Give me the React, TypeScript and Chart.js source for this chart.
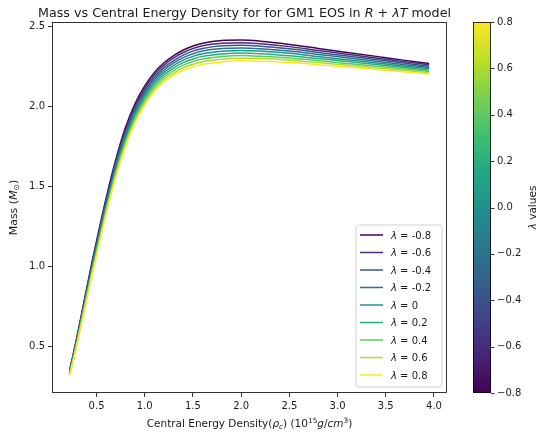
import { useEffect, useRef } from 'react';
import { Chart, registerables } from 'chart.js';
Chart.register(...registerables);

// ---------- data ----------
const X_VALUES = [0.22, 0.25, 0.3, 0.35, 0.4, 0.45, 0.5, 0.6, 0.7, 0.8, 0.9, 1.0, 1.1, 1.2, 1.3, 1.4, 1.5, 1.6, 1.8, 2.0, 2.2, 2.5, 2.8, 3.1, 3.4, 3.7, 3.95];
const LAMBDAS = [-0.8, -0.6, -0.4, -0.2, 0, 0.2, 0.4, 0.6, 0.8];
const LAMBDA_LABELS = ['-0.8', '-0.6', '-0.4', '-0.2', '0', '0.2', '0.4', '0.6', '0.8'];

const MASS_L_M08 = [0.35, 0.43, 0.57, 0.72, 0.87, 1.02, 1.16, 1.43, 1.67, 1.87, 2.02, 2.13, 2.215, 2.275, 2.32, 2.355, 2.38, 2.397, 2.414, 2.417, 2.41, 2.39, 2.365, 2.34, 2.315, 2.29, 2.27];
const MASS_L_M06 = [0.346, 0.425, 0.564, 0.713, 0.861, 1.01, 1.149, 1.418, 1.656, 1.855, 2.005, 2.115, 2.20, 2.26, 2.305, 2.339, 2.364, 2.381, 2.397, 2.401, 2.394, 2.376, 2.352, 2.329, 2.305, 2.281, 2.262];
const MASS_L_M04 = [0.343, 0.42, 0.558, 0.705, 0.853, 1.0, 1.138, 1.405, 1.643, 1.84, 1.99, 2.10, 2.185, 2.245, 2.289, 2.323, 2.348, 2.364, 2.381, 2.385, 2.379, 2.362, 2.34, 2.317, 2.295, 2.272, 2.254];
const MASS_L_M02 = [0.339, 0.415, 0.551, 0.698, 0.844, 0.99, 1.126, 1.393, 1.629, 1.825, 1.975, 2.085, 2.17, 2.23, 2.274, 2.307, 2.331, 2.348, 2.364, 2.368, 2.363, 2.348, 2.327, 2.306, 2.284, 2.263, 2.246];
const MASS_L_0 = [0.335, 0.41, 0.545, 0.69, 0.835, 0.98, 1.115, 1.38, 1.615, 1.81, 1.96, 2.07, 2.155, 2.215, 2.259, 2.292, 2.315, 2.331, 2.347, 2.352, 2.348, 2.334, 2.314, 2.294, 2.274, 2.254, 2.238];
const MASS_L_P02 = [0.331, 0.405, 0.539, 0.683, 0.826, 0.97, 1.104, 1.368, 1.601, 1.795, 1.945, 2.055, 2.14, 2.20, 2.243, 2.276, 2.299, 2.315, 2.33, 2.336, 2.332, 2.319, 2.301, 2.283, 2.264, 2.245, 2.229];
const MASS_L_P04 = [0.328, 0.40, 0.533, 0.675, 0.818, 0.96, 1.093, 1.355, 1.588, 1.78, 1.93, 2.04, 2.125, 2.185, 2.228, 2.26, 2.283, 2.298, 2.314, 2.32, 2.316, 2.305, 2.289, 2.271, 2.254, 2.236, 2.221];
const MASS_L_P06 = [0.324, 0.395, 0.526, 0.668, 0.809, 0.95, 1.081, 1.343, 1.574, 1.765, 1.915, 2.025, 2.11, 2.17, 2.212, 2.244, 2.266, 2.282, 2.297, 2.303, 2.301, 2.291, 2.276, 2.26, 2.243, 2.227, 2.213];
const MASS_L_P08 = [0.32, 0.39, 0.52, 0.66, 0.80, 0.94, 1.07, 1.33, 1.56, 1.75, 1.90, 2.01, 2.095, 2.155, 2.197, 2.228, 2.25, 2.265, 2.28, 2.287, 2.285, 2.277, 2.263, 2.248, 2.233, 2.218, 2.205];

const SERIES = [MASS_L_M08, MASS_L_M06, MASS_L_M04, MASS_L_M02, MASS_L_0, MASS_L_P02, MASS_L_P04, MASS_L_P06, MASS_L_P08];

const X_TICKS = [0.5, 1.0, 1.5, 2.0, 2.5, 3.0, 3.5, 4.0];
const Y_TICKS = [0.5, 1.0, 1.5, 2.0, 2.5];
const CBAR_TICKS = [-0.8, -0.6, -0.4, -0.2, 0.0, 0.2, 0.4, 0.6, 0.8];

// ---------- styles ----------
const W = 541;
const H = 436;
const FONT = '"DejaVu Sans", sans-serif';
const LINE_COLORS = ['#440154', '#472d7b', '#3b528b', '#2c728e', '#21918c', '#27ad81', '#5ec962', '#aadc32', '#fde725'];
const VIRIDIS = ['#440154', '#482475', '#414487', '#355f8d', '#2a788e', '#21918c', '#22a884', '#44bf70', '#7ad151', '#bddf26', '#fde725'];
const TICK_SIZE = 10;
const LABEL_SIZE = 10.5;
const TITLE_SIZE = 12.7;
const TEXT = '#1a1a1a';

type Seg = { t: string; it?: boolean; sub?: boolean; sup?: boolean };

function richText(ctx: CanvasRenderingContext2D, segs: Seg[], x: number, y: number, size: number, align: 'center' | 'left') {
  const fontOf = (s: Seg) => `${s.it ? 'italic ' : ''}${s.sub || s.sup ? size * 0.7 : size}px ${FONT}`;
  let total = 0;
  const widths = segs.map((s) => {
    ctx.font = fontOf(s);
    const w = ctx.measureText(s.t).width;
    total += w;
    return w;
  });
  let cx = align === 'center' ? x - total / 2 : x;
  ctx.textAlign = 'left';
  ctx.textBaseline = 'alphabetic';
  segs.forEach((s, i) => {
    ctx.font = fontOf(s);
    const dy = s.sub ? size * 0.22 : s.sup ? -size * 0.42 : 0;
    ctx.fillText(s.t, cx, y + dy);
    cx += widths[i];
  });
}

const decorPlugin = {
  id: 'decor',
  afterDraw(chart: any) {
    const ctx: CanvasRenderingContext2D = chart.ctx;
    const ca = chart.chartArea;
    ctx.save();
    // frame
    ctx.strokeStyle = '#000';
    ctx.lineWidth = 0.8;
    ctx.strokeRect(Math.round(ca.left) + 0.5, Math.round(ca.top) + 0.5, Math.round(ca.right - ca.left) - 1, Math.round(ca.bottom - ca.top) - 1);

    ctx.fillStyle = TEXT;
    // title
    richText(ctx, [
      { t: 'Mass vs Central Energy Density for for GM1 EOS in ' },
      { t: 'R', it: true },
      { t: ' + ' },
      { t: '\u03bbT', it: true },
      { t: ' model' },
    ], (ca.left + ca.right) / 2 - 5, 17, TITLE_SIZE, 'center');

    // x label
    richText(ctx, [
      { t: 'Central Energy Density(' },
      { t: '\u03c1', it: true },
      { t: 'c', it: true, sub: true },
      { t: ') (10' },
      { t: '15', sup: true },
      { t: 'g', it: true },
      { t: '/' },
      { t: 'cm', it: true },
      { t: '3', sup: true },
      { t: ')' },
    ], (ca.left + ca.right) / 2, 427, LABEL_SIZE, 'center');

    // y label
    ctx.save();
    ctx.translate(17, (ca.top + ca.bottom) / 2);
    ctx.rotate(-Math.PI / 2);
    richText(ctx, [
      { t: 'Mass (' },
      { t: 'M', it: true },
      { t: '\u2299', sub: true },
      { t: ')' },
    ], 0, 0, 11, 'center');
    ctx.restore();

    // legend
    const lw = 86;
    const lh = 162;
    const lx = ca.right - 5 - lw;
    const ly = ca.bottom - 6 - lh;
    ctx.beginPath();
    const r = 3;
    ctx.moveTo(lx + r, ly);
    ctx.arcTo(lx + lw, ly, lx + lw, ly + lh, r);
    ctx.arcTo(lx + lw, ly + lh, lx, ly + lh, r);
    ctx.arcTo(lx, ly + lh, lx, ly, r);
    ctx.arcTo(lx, ly, lx + lw, ly, r);
    ctx.closePath();
    ctx.fillStyle = 'rgba(255,255,255,0.8)';
    ctx.fill();
    ctx.strokeStyle = '#d0d0d0';
    ctx.lineWidth = 1;
    ctx.stroke();
    LAMBDA_LABELS.forEach((lab, i) => {
      const yy = ly + 10 + i * 17.5;
      ctx.strokeStyle = LINE_COLORS[i];
      ctx.lineWidth = 1.5;
      ctx.beginPath();
      ctx.moveTo(lx + 4, yy);
      ctx.lineTo(lx + 27, yy);
      ctx.stroke();
      ctx.fillStyle = TEXT;
      richText(ctx, [{ t: '\u03bb', it: true }, { t: ' = ' + lab }], lx + 35, yy + 3.7, TICK_SIZE, 'left');
    });

    // colorbar
    const cbL = 473;
    const cbR = 491;
    const cbT = Math.round(ca.top);
    const cbB = Math.round(ca.bottom);
    const grad = ctx.createLinearGradient(0, cbB, 0, cbT);
    VIRIDIS.forEach((c, i) => grad.addColorStop(i / (VIRIDIS.length - 1), c));
    ctx.fillStyle = grad;
    ctx.fillRect(cbL, cbT, cbR - cbL, cbB - cbT);
    ctx.strokeStyle = '#000';
    ctx.lineWidth = 0.8;
    ctx.strokeRect(cbL + 0.5, cbT + 0.5, cbR - cbL - 1, cbB - cbT - 1);
    const vmin = CBAR_TICKS[0];
    const vmax = CBAR_TICKS[CBAR_TICKS.length - 1];
    ctx.font = `${TICK_SIZE}px ${FONT}`;
    ctx.textAlign = 'left';
    ctx.textBaseline = 'middle';
    CBAR_TICKS.forEach((v) => {
      const yy = cbB - ((v - vmin) / (vmax - vmin)) * (cbB - cbT);
      ctx.strokeStyle = '#000';
      ctx.beginPath();
      ctx.moveTo(cbR, Math.round(yy) + 0.5);
      ctx.lineTo(cbR + 3.5, Math.round(yy) + 0.5);
      ctx.stroke();
      ctx.fillStyle = TEXT;
      const s = v.toFixed(1).replace('-', '\u2212');
      ctx.fillText(s === '\u22120.0' ? '0.0' : s, cbR + 6, yy);
    });
    ctx.save();
    ctx.translate(536, (cbT + cbB) / 2);
    ctx.rotate(-Math.PI / 2);
    ctx.fillStyle = TEXT;
    richText(ctx, [{ t: '\u03bb', it: true }, { t: ' values' }], 0, 0, LABEL_SIZE, 'center');
    ctx.restore();

    ctx.restore();
  },
};

export default function App() {
  const ref = useRef<HTMLCanvasElement>(null);
  useEffect(() => {
    const datasets = SERIES.map((ys, i) => ({
      label: `\u03bb = ${LAMBDA_LABELS[i]}`,
      data: X_VALUES.map((x, j) => ({ x, y: ys[j] })),
      borderColor: LINE_COLORS[i],
      backgroundColor: LINE_COLORS[i],
      borderWidth: 1.5,
      pointRadius: 0,
      fill: false,
      cubicInterpolationMode: 'monotone' as const,
      order: LAMBDAS.length - 1 - i,
    }));
    const tickCommon = {
      font: { family: FONT, size: TICK_SIZE },
      color: TEXT,
      padding: 3,
      autoSkip: false,
      maxRotation: 0,
      callback: (v: any) => Number(v).toFixed(1),
    };
    const gridCommon = {
      display: true,
      drawOnChartArea: false,
      drawTicks: true,
      tickLength: 4,
      color: '#000',
      lineWidth: 0.8,
    };
    const chart = new Chart(ref.current!, {
      type: 'line',
      data: { datasets },
      options: {
        responsive: false,
        animation: false,
        devicePixelRatio: 1,
        layout: { padding: { top: 22, right: W - 447, left: 0, bottom: 0 } },
        plugins: { legend: { display: false }, title: { display: false }, tooltip: { enabled: false } },
        scales: {
          x: {
            type: 'linear',
            min: 0.038,
            max: 4.135,
            afterBuildTicks: (s: any) => { s.ticks = X_TICKS.map((v) => ({ value: v })); },
            afterFit: (s: any) => { s.height = 43; },
            ticks: tickCommon,
            grid: gridCommon,
            border: { display: false },
          },
          y: {
            type: 'linear',
            min: 0.21,
            max: 2.53,
            afterBuildTicks: (s: any) => { s.ticks = Y_TICKS.map((v) => ({ value: v })); },
            afterFit: (s: any) => { s.width = 52; },
            ticks: tickCommon,
            grid: gridCommon,
            border: { display: false },
          },
        },
      },
      plugins: [decorPlugin],
    });
    return () => chart.destroy();
  }, []);
  return (
    <div style={{ position: 'absolute', left: 0, top: 0, width: W, height: H, background: '#fff' }}>
      <canvas ref={ref} width={W} height={H} style={{ display: 'block' }} />
    </div>
  );
}
